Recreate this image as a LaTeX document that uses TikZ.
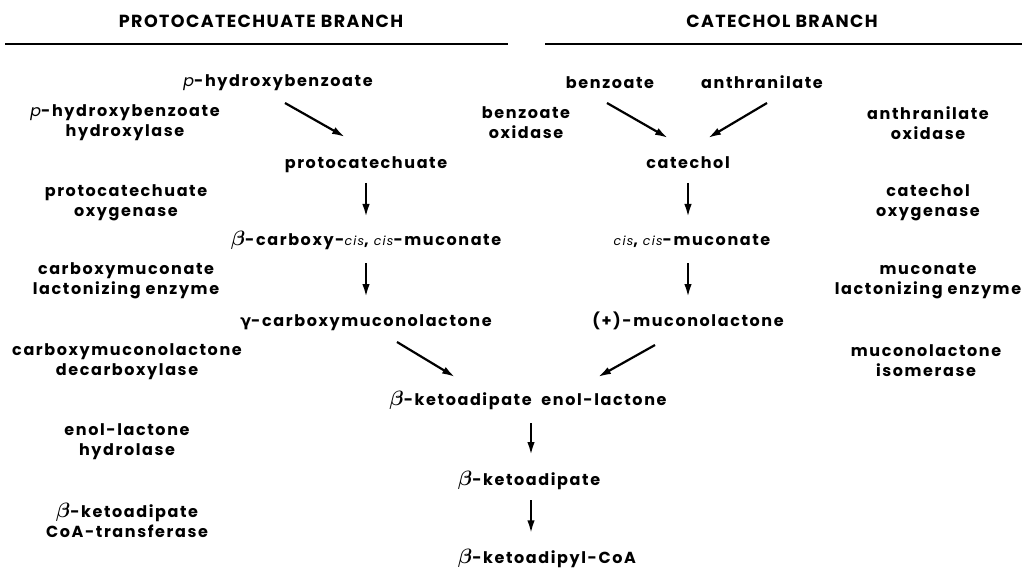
\documentclass[tikz,border=0pt]{standalone}
\usepackage{fontspec}
\setmainfont{Poppins}[LetterSpace=10]
\newfontfamily\greekfont{DejaVu Sans}[LetterSpace=10]
\usepackage{bm}
\usetikzlibrary{arrows.meta}

\newcommand{\bet}{{\fontsize{20}{20}\selectfont$\bm{\beta}$}}
\newcommand{\gam}{{\greekfont γ}}
\newcommand{\cisit}{{\fontsize{12.5}{12}\selectfont\mdseries\itshape cis}}
\newcommand{\para}{{\mdseries\itshape p}}

\begin{document}
\begin{tikzpicture}[x=1pt,y=-1pt,
  cmpd/.style={font=\fontsize{16}{20}\selectfont\bfseries, inner sep=0pt, text height=11pt, text depth=4pt},
  enz/.style={font=\fontsize{16}{20}\selectfont\bfseries, align=center, inner sep=0pt},
  head/.style={font=\fontsize{17.5}{18}\selectfont\bfseries\addfontfeatures{LetterSpace=8}},
  rxn/.style={-{Latex[length=13pt,width=7.5pt]}, line width=2.2pt}]

\useasboundingbox (0,0) rectangle (1027,569);

% headings
\node[head] (hleft) at (261,21) {PROTOCATECHUATE BRANCH};
\node[head] (hright) at (782,21) {CATECHOL BRANCH};
\draw[line width=2.4pt] (5,44) -- (508,44);
\draw[line width=2.4pt] (545,44) -- (1022,44);

% compounds
\node[cmpd] (phb) at (278,83) {\para-hydroxybenzoate};
\node[cmpd] (bz) at (610,85) {benzoate};
\node[cmpd] (anth) at (762,85) {anthranilate};
\node[cmpd] (pca) at (366,165) {protocatechuate};
\node[cmpd] (cat) at (688,165) {catechol};
\node[cmpd] (bcm) at (366,242) {\bet-carboxy-\cisit, \cisit-muconate};
\node[cmpd] (ccm) at (692,242) {\cisit, \cisit-muconate};
\node[cmpd] (gcm) at (366,323) {\gam-carboxymuconolactone};
\node[cmpd] (muc) at (688,323) {(+)-muconolactone};
\node[cmpd] (kel) at (528,402) {\bet-ketoadipate\hspace{0.3em} enol-lactone};
\node[cmpd] (ka) at (529,482) {\bet-ketoadipate};
\node[cmpd, anchor=west] (kcoa) at (ka.west |- 0,560) {\bet-ketoadipyl-CoA};

% enzymes
\node[enz] (e1) at (125,123) {\para-hydroxybenzoate\\hydroxylase};
\node[enz] (e2) at (126,203) {protocatechuate\\oxygenase};
\node[enz] (e3) at (126,281) {carboxymuconate\\lactonizing enzyme};
\node[enz] (e4) at (127,362) {carboxymuconolactone\\decarboxylase};
\node[enz] (e5) at (127,442) {enol-lactone\\hydrolase};
\node[enz] (e6) at (127,520) {\bet-ketoadipate\\CoA-transferase};
\node[enz] (e7) at (526,123) {benzoate\\oxidase};
\node[enz] (e8) at (928,123) {anthranilate\\oxidase};
\node[enz] (e9) at (928,203) {catechol\\oxygenase};
\node[enz] (e10) at (928,281) {muconate\\lactonizing enzyme};
\node[enz] (e11) at (926,361) {muconolactone\\isomerase};

% reactions
\draw[rxn] ([xshift=7pt,yshift=-20pt]phb.center) -- ([xshift=-21pt,yshift=28pt]pca.center);
\draw[rxn] ([xshift=-3pt,yshift=-18pt]bz.center) -- ([xshift=-20pt,yshift=27pt]cat.center);
\draw[rxn] ([xshift=5pt,yshift=-18pt]anth.center) -- ([xshift=20pt,yshift=27pt]cat.center);
\draw[rxn] ([yshift=-18pt]pca.center) -- ([yshift=25pt]bcm.center);
\draw[rxn] ([yshift=-18pt]cat.center) -- ([xshift=-4pt,yshift=25pt]ccm.center);
\draw[rxn] ([yshift=-21pt]bcm.center) -- ([yshift=26pt]gcm.center);
\draw[rxn] ([xshift=-4pt,yshift=-21pt]ccm.center) -- ([yshift=26pt]muc.center);
\draw[rxn] ([xshift=31pt,yshift=-19pt]gcm.center) -- ([xshift=-73pt,yshift=25pt]kel.center);
\draw[rxn] ([xshift=-33pt,yshift=-22pt]muc.center) -- ([xshift=70pt,yshift=25pt]kel.center);
\draw[rxn] ([xshift=3pt,yshift=-21pt]kel.center) -- ([xshift=2pt,yshift=27pt]ka.center);
\draw[rxn, shorten >=19pt] ([xshift=2pt,yshift=-18pt]ka.center) -- ([xshift=2pt]ka.center |- kcoa.north);
\end{tikzpicture}
\end{document}
